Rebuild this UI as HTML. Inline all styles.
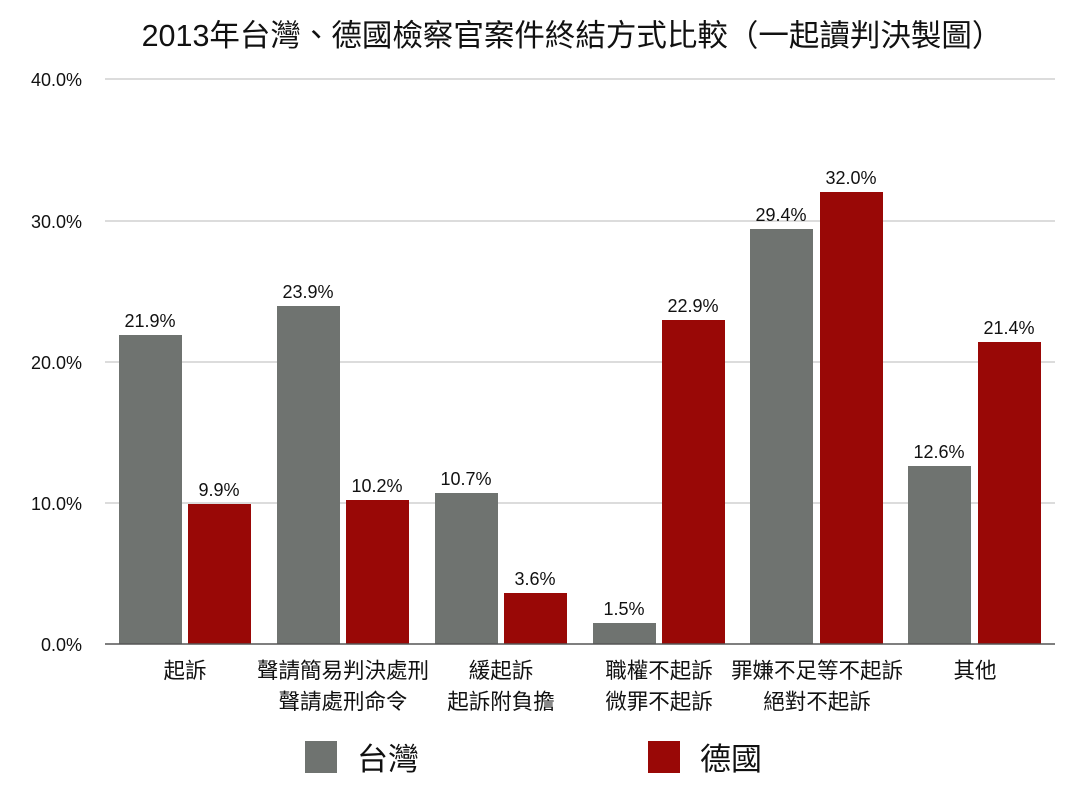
<!DOCTYPE html>
<html><head><meta charset="utf-8"><style>
body{margin:0;background:#fff}
text{font-family:"Liberation Sans","Noto Sans CJK TC",sans-serif;fill:#111}
</style></head><body>
<svg width="1080" height="791" viewBox="0 0 1080 791" xmlns="http://www.w3.org/2000/svg">
<rect width="1080" height="791" fill="#fff"/>
<text x="572" y="46" font-size="30.5" text-anchor="middle">2013年台灣、德國檢察官案件終結方式比較（一起讀判決製圖）</text>
<g stroke="#c8c8c8" stroke-width="1.2">
<line x1="105" y1="79" x2="1055" y2="79"/>
<line x1="105" y1="221" x2="1055" y2="221"/>
<line x1="105" y1="362" x2="1055" y2="362"/>
<line x1="105" y1="503" x2="1055" y2="503"/>
</g>
<g font-size="18" text-anchor="end">
<text x="82" y="86">40.0%</text>
<text x="82" y="228">30.0%</text>
<text x="82" y="369">20.0%</text>
<text x="82" y="510">10.0%</text>
<text x="82" y="651">0.0%</text>
</g>
<g fill="#6f7370">
<rect x="119" y="335" width="63" height="309"/>
<rect x="277" y="306" width="63" height="338"/>
<rect x="435" y="493" width="63" height="151"/>
<rect x="593" y="623" width="63" height="21"/>
<rect x="750" y="229" width="63" height="415"/>
<rect x="908" y="466" width="63" height="178"/>
</g>
<g fill="#990806">
<rect x="188" y="504" width="63" height="140"/>
<rect x="346" y="500" width="63" height="144"/>
<rect x="504" y="593" width="63" height="51"/>
<rect x="662" y="320" width="63" height="324"/>
<rect x="820" y="192" width="63" height="452"/>
<rect x="978" y="342" width="63" height="302"/>
</g>
<line x1="105" y1="644" x2="1055" y2="644" stroke="#555" stroke-width="1.5"/>
<g font-size="18" text-anchor="middle">
<text x="150" y="327">21.9%</text>
<text x="219" y="496">9.9%</text>
<text x="308" y="298">23.9%</text>
<text x="377" y="492">10.2%</text>
<text x="466" y="485">10.7%</text>
<text x="535" y="585">3.6%</text>
<text x="624" y="615">1.5%</text>
<text x="693" y="312">22.9%</text>
<text x="781" y="221">29.4%</text>
<text x="851" y="184">32.0%</text>
<text x="939" y="458">12.6%</text>
<text x="1009" y="334">21.4%</text>
</g>
<g font-size="21.5" text-anchor="middle">
<text x="185" y="678">起訴</text>
<text x="343" y="678">聲請簡易判決處刑</text>
<text x="343" y="709">聲請處刑命令</text>
<text x="501" y="678">緩起訴</text>
<text x="501" y="709">起訴附負擔</text>
<text x="659" y="678">職權不起訴</text>
<text x="659" y="709">微罪不起訴</text>
<text x="817" y="678">罪嫌不足等不起訴</text>
<text x="817" y="709">絕對不起訴</text>
<text x="975" y="678">其他</text>
</g>
<rect x="305" y="741" width="32" height="32" fill="#6f7370"/>
<text x="357" y="770" font-size="31">台灣</text>
<rect x="648" y="741" width="32" height="32" fill="#990806"/>
<text x="700" y="770" font-size="31">德國</text>
</svg>
</body></html>
